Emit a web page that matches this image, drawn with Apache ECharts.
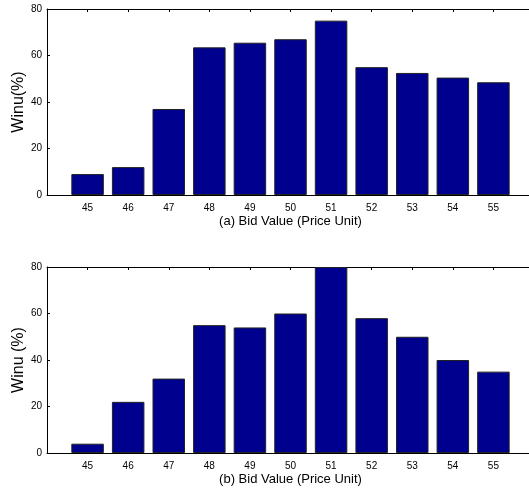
<!DOCTYPE html>
<html>
<head>
<meta charset="utf-8">
<script src="https://cdn.jsdelivr.net/npm/echarts@6/dist/echarts.min.js"></script>
<style>html,body{margin:0;padding:0;background:#fff}#c{width:529px;height:496px}</style>
</head>
<body>
<div id="c"></div>
<script>
var bidValues = [45, 46, 47, 48, 49, 50, 51, 52, 53, 54, 55];
var winA = [9, 12, 37, 63.5, 65.5, 67, 75, 55, 52.5, 50.5, 48.5];
var winB = [4, 22, 32, 55, 54, 60, 80, 58, 50, 40, 35];
var yTicks = [0, 20, 40, 60, 80];
var xTitleA = '(a) Bid Value (Price Unit)';
var xTitleB = '(b) Bid Value (Price Unit)';
var yTitleA = 'Winu(%)';
var yTitleB = 'Winu (%)';

var font = 'Liberation Sans, Arial, sans-serif';
function pairs(vals){ return bidValues.map(function(x,i){ return [x, vals[i]]; }); }

var grids = [
  {left: 47, top: 9, width: 487, height: 186, containLabel:false, outerBoundsMode:'none'},
  {left: 47, top: 267, width: 487, height: 186, containLabel:false, outerBoundsMode:'none'}
];
function xBottom(gi, title){
  return {type:'value', gridIndex:gi, position:'bottom', min:44, max:56, interval:1,
    axisLine:{show:true, lineStyle:{color:'#000', width:1}},
    axisTick:{show:false}, splitLine:{show:false},
    axisLabel:{color:'#000', fontSize:10, fontFamily:font, margin:8,
      formatter:function(v){ return bidValues.indexOf(v) >= 0 ? String(v) : ''; }},
    name:title, nameLocation:'middle', nameGap:20, nameMoveOverlap:false,
    nameTextStyle:{color:'#000', fontSize:13, fontFamily:font}};
}
function xTop(gi){
  return {type:'value', gridIndex:gi, position:'top', min:44, max:56, interval:1,
    axisLine:{show:true, lineStyle:{color:'#000', width:1}},
    axisTick:{show:true, inside:true, length:3, lineStyle:{color:'#000'}},
    axisLabel:{show:false}, splitLine:{show:false}};
}
function yAxis(gi, title){
  return {type:'value', gridIndex:gi, min:yTicks[0], max:yTicks[yTicks.length-1], interval:20,
    axisLine:{show:true, lineStyle:{color:'#000', width:1}},
    axisTick:{show:true, inside:true, length:3, lineStyle:{color:'#000'}},
    splitLine:{show:false},
    axisLabel:{color:'#000', fontSize:10, fontFamily:font, margin:5},
    name:title, nameLocation:'middle', nameGap:20, nameMoveOverlap:false,
    nameTextStyle:{color:'#000', fontSize:16, fontFamily:font}};
}
var barStyle = {color:'#00008F', borderColor:'#222', borderWidth:1};
var option = {
  animation:false,
  backgroundColor:'#fff',
  grid: grids,
  xAxis: [xBottom(0, xTitleA), xTop(0), xBottom(1, xTitleB), xTop(1)],
  yAxis: [yAxis(0, yTitleA), yAxis(1, yTitleB)],
  series: [
    {type:'bar', xAxisIndex:0, yAxisIndex:0, data:pairs(winA), barWidth:32.5, itemStyle:barStyle},
    {type:'bar', xAxisIndex:2, yAxisIndex:1, data:pairs(winB), barWidth:32.5, itemStyle:barStyle}
  ]
};
var chart = echarts.init(document.getElementById('c'), null, {renderer:'canvas'});
chart.setOption(option);
</script>
</body>
</html>
